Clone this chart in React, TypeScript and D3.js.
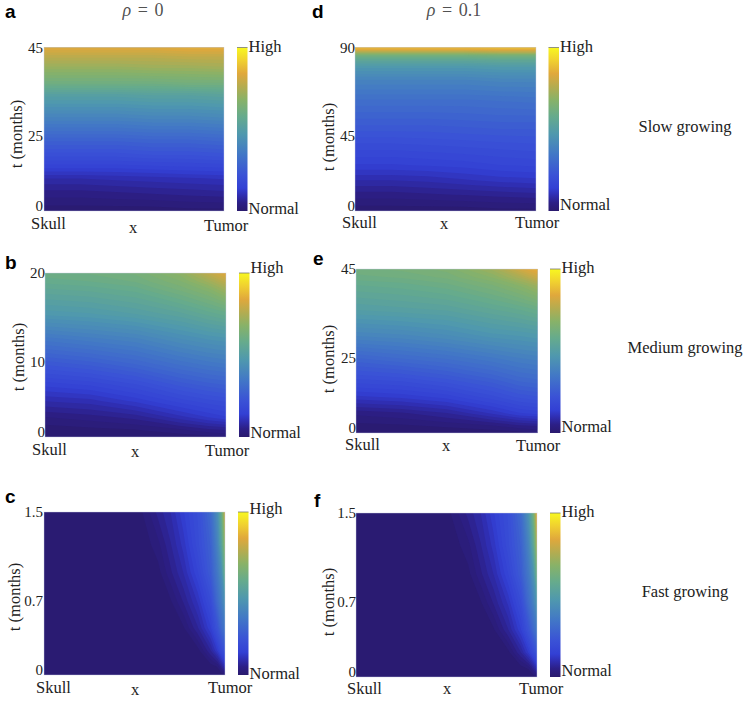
import React from "react";
import * as d3 from "d3";

// ---------- colour scale (position on colour bar -> colour) ----------
const colorPositions = [0, 0.05, 0.1, 0.14, 0.22, 0.35, 0.47, 0.58, 0.68, 0.76, 0.84, 0.92, 1];
const colorValues = ["#2a1a6e", "#2c1f86", "#2f2fb4", "#3340d4", "#3a52d6", "#4278c6", "#4f98ae", "#66ab8c", "#88b268", "#b4ac50", "#e0a83c", "#f0d030", "#f8f820"];

// ---------- sampled fields: xSamples = skull(0)..tumor(1), tSamples = top(1)..bottom(0) ----------
const aX = [0, 0.2, 0.4, 0.6, 0.8, 1];
const aT = [1, 0.94, 0.88, 0.78, 0.71, 0.57, 0.43, 0.35, 0.27, 0.2, 0.12, 0];
const aValues = [
  [0.84, 0.84, 0.84, 0.84, 0.85, 0.85],
  [0.77, 0.77, 0.77, 0.77, 0.78, 0.78],
  [0.71, 0.71, 0.71, 0.72, 0.72, 0.73],
  [0.61, 0.61, 0.61, 0.61, 0.62, 0.62],
  [0.51, 0.51, 0.51, 0.52, 0.52, 0.53],
  [0.39, 0.39, 0.39, 0.4, 0.4, 0.41],
  [0.27, 0.27, 0.27, 0.28, 0.28, 0.29],
  [0.21, 0.21, 0.21, 0.22, 0.22, 0.23],
  [0.15, 0.15, 0.15, 0.155, 0.16, 0.165],
  [0.09, 0.09, 0.095, 0.1, 0.105, 0.11],
  [0.05, 0.05, 0.055, 0.06, 0.065, 0.07],
  [0.005, 0.005, 0.005, 0.005, 0.01, 0.01],
];

const bX = [0, 0.25, 0.5, 0.75, 0.9, 1];
const bT = [1, 0.95, 0.9, 0.75, 0.6, 0.45, 0.32, 0.22, 0.12, 0.04, 0];
const bValues = [
  [0.6, 0.61, 0.63, 0.69, 0.78, 0.84],
  [0.58, 0.59, 0.61, 0.66, 0.72, 0.78],
  [0.55, 0.56, 0.58, 0.63, 0.67, 0.72],
  [0.47, 0.48, 0.5, 0.53, 0.56, 0.58],
  [0.35, 0.37, 0.39, 0.43, 0.45, 0.46],
  [0.24, 0.26, 0.29, 0.33, 0.35, 0.36],
  [0.15, 0.165, 0.195, 0.24, 0.26, 0.27],
  [0.09, 0.1, 0.13, 0.17, 0.19, 0.2],
  [0.035, 0.045, 0.06, 0.1, 0.125, 0.14],
  [0.005, 0.01, 0.015, 0.03, 0.045, 0.05],
  [0, 0, 0, 0.005, 0.01, 0.02],
];

const cX = [0, 0.5, 0.55, 0.63, 0.7, 0.77, 0.85, 0.92, 0.96, 0.98, 1];
const cT = [1, 0.8, 0.63, 0.45, 0.29, 0.15, 0.05, 0];
const cValues = [
  [0, 0.005, 0.02, 0.06, 0.09, 0.14, 0.2, 0.3, 0.44, 0.58, 0.8],
  [0, 0, 0.005, 0.03, 0.07, 0.115, 0.19, 0.27, 0.4, 0.52, 0.7],
  [0, 0, 0, 0.01, 0.05, 0.09, 0.16, 0.25, 0.36, 0.43, 0.6],
  [0, 0, 0, 0.005, 0.015, 0.055, 0.11, 0.19, 0.31, 0.37, 0.45],
  [0, 0, 0, 0, 0.005, 0.015, 0.07, 0.14, 0.23, 0.3, 0.35],
  [0, 0, 0, 0, 0, 0.002, 0.01, 0.07, 0.13, 0.18, 0.22],
  [0, 0, 0, 0, 0, 0, 0.002, 0.005, 0.02, 0.06, 0.1],
  [0, 0, 0, 0, 0, 0, 0, 0, 0.002, 0.005, 0.02],
];

const dX = [0, 0.2, 0.4, 0.6, 0.8, 1];
const dT = [1, 0.988, 0.97, 0.95, 0.92, 0.88, 0.8, 0.68, 0.525, 0.4, 0.28, 0.19, 0.1, 0];
const dValues = [
  [0.88, 0.88, 0.88, 0.88, 0.89, 0.89],
  [0.84, 0.84, 0.84, 0.84, 0.85, 0.85],
  [0.74, 0.74, 0.74, 0.74, 0.75, 0.75],
  [0.62, 0.62, 0.62, 0.62, 0.63, 0.63],
  [0.54, 0.54, 0.54, 0.54, 0.55, 0.55],
  [0.47, 0.47, 0.47, 0.47, 0.48, 0.48],
  [0.39, 0.39, 0.39, 0.39, 0.4, 0.4],
  [0.32, 0.32, 0.32, 0.32, 0.325, 0.33],
  [0.25, 0.25, 0.25, 0.255, 0.26, 0.26],
  [0.19, 0.19, 0.195, 0.2, 0.205, 0.21],
  [0.14, 0.14, 0.145, 0.15, 0.16, 0.165],
  [0.09, 0.09, 0.095, 0.105, 0.115, 0.12],
  [0.045, 0.045, 0.05, 0.055, 0.06, 0.065],
  [0.005, 0.005, 0.005, 0.005, 0.01, 0.01],
];

const eX = [0, 0.25, 0.5, 0.75, 0.9, 1];
const eT = [1, 0.95, 0.9, 0.75, 0.6, 0.45, 0.32, 0.22, 0.12, 0.04, 0];
const eValues = [
  [0.62, 0.63, 0.65, 0.72, 0.81, 0.86],
  [0.6, 0.61, 0.63, 0.68, 0.74, 0.8],
  [0.57, 0.58, 0.6, 0.64, 0.68, 0.72],
  [0.5, 0.51, 0.52, 0.55, 0.57, 0.59],
  [0.4, 0.41, 0.43, 0.46, 0.47, 0.48],
  [0.28, 0.3, 0.32, 0.35, 0.37, 0.38],
  [0.19, 0.2, 0.225, 0.26, 0.29, 0.3],
  [0.12, 0.13, 0.15, 0.19, 0.22, 0.23],
  [0.04, 0.05, 0.07, 0.11, 0.14, 0.15],
  [0.01, 0.012, 0.02, 0.03, 0.045, 0.05],
  [0, 0, 0, 0.005, 0.01, 0.02],
];

const fX = [0, 0.48, 0.53, 0.62, 0.69, 0.76, 0.84, 0.91, 0.955, 0.98, 1];
const fT = [1, 0.8, 0.63, 0.45, 0.29, 0.15, 0.05, 0];
const fValues = [
  [0, 0.005, 0.02, 0.06, 0.09, 0.14, 0.2, 0.3, 0.46, 0.62, 0.85],
  [0, 0, 0.005, 0.03, 0.07, 0.115, 0.19, 0.27, 0.4, 0.54, 0.74],
  [0, 0, 0, 0.012, 0.05, 0.09, 0.16, 0.25, 0.36, 0.45, 0.62],
  [0, 0, 0, 0.005, 0.015, 0.055, 0.11, 0.19, 0.31, 0.38, 0.47],
  [0, 0, 0, 0, 0.005, 0.015, 0.07, 0.14, 0.23, 0.3, 0.36],
  [0, 0, 0, 0, 0, 0.002, 0.01, 0.07, 0.13, 0.18, 0.23],
  [0, 0, 0, 0, 0, 0, 0.002, 0.005, 0.02, 0.06, 0.1],
  [0, 0, 0, 0, 0, 0, 0, 0, 0.002, 0.005, 0.02],
];

// ---------- labels ----------
const aTicks = ["45", "25", "0"];
const bTicks = ["20", "10", "0"];
const cTicks = ["1.5", "0.7", "0"];
const dTicks = ["90", "45", "0"];
const eTicks = ["45", "25", "0"];
const fTicks = ["1.5", "0.7", "0"];
const tickFractions = [1, 0.457, 0.03];
const rowLabels = ["Slow growing", "Medium growing", "Fast growing"];

// ---------- layout ----------
const panels = [
  { id: "a", xs: aX, ts: aT, vals: aValues, ticks: aTicks, box: [44, 224, 47.5, 211], cb: 237, letter: [5, 18], high: 51.5, normal: 214, skull: [31, 229], xl: [133, 233], tumor: [204, 231], tt: [22, 134], tickX: 43 },
  { id: "b", xs: bX, ts: bT, vals: bValues, ticks: bTicks, box: [45, 226, 273, 437], cb: 239, letter: [5, 269], high: 273, normal: 438, skull: [32, 455], xl: [135, 457], tumor: [205, 456], tt: [24, 357], tickX: 45 },
  { id: "c", xs: cX, ts: cT, vals: cValues, ticks: cTicks, box: [44, 225, 512, 675], cb: 238, letter: [5, 503], high: 514, normal: 679, skull: [36, 693], xl: [135, 695], tumor: [208, 693], tt: [20, 597], tickX: 43 },
  { id: "d", xs: dX, ts: dT, vals: dValues, ticks: dTicks, box: [355, 536, 47.5, 211], cb: 548.5, letter: [312, 18], high: 51.5, normal: 210, skull: [342, 228], xl: [444, 229], tumor: [515, 228], tt: [334, 137], tickX: 355 },
  { id: "e", xs: eX, ts: eT, vals: eValues, ticks: eTicks, box: [356, 537.5, 269, 433], cb: 550, letter: [313, 265], high: 273, normal: 432, skull: [345, 450], xl: [446, 451], tumor: [516, 451], tt: [334, 359], tickX: 356 },
  { id: "f", xs: fX, ts: fT, vals: fValues, ticks: fTicks, box: [356, 537, 513, 677], cb: 550, letter: [314, 507], high: 516.5, normal: 676, skull: [347, 694], xl: [447, 694], tumor: [519, 694], tt: [334, 602], tickX: 356 },
];

const SERIF = "'Liberation Serif', 'Times New Roman', serif";
const SANS = "'Liberation Sans', Arial, sans-serif";
const TEXT = "#222";
const BAND_COUNT = 56;

const colorScale = d3.scaleLinear<string>().domain(colorPositions).range(colorValues).interpolate(d3.interpolateRgb);

function bandPaths(p: (typeof panels)[number]) {
  const nx = p.xs.length;
  const ny = p.ts.length;
  const [x0, x1, y0, y1] = p.box;
  const xPx = d3.scaleLinear().domain([0, 1]).range([x0, x1]);
  const yPx = d3.scaleLinear().domain([0, 1]).range([y1, y0]);
  // grid index -> sampled position: d3.contours puts samples at index+0.5 and edges at 0 and n
  const gridDomain = (n: number) => [0, ...d3.range(n).map((i) => i + 0.5), n];
  const xIndex = d3.scaleLinear().domain(gridDomain(nx)).range([p.xs[0], ...p.xs, p.xs[nx - 1]]);
  const yIndex = d3.scaleLinear().domain(gridDomain(ny)).range([p.ts[0], ...p.ts, p.ts[ny - 1]]);
  const flat = p.vals.flat();
  const thresholds = d3.range(BAND_COUNT).map((i) => i / BAND_COUNT);
  const contours = d3.contours().size([nx, ny]).smooth(true).thresholds(thresholds)(flat);
  const path = d3.geoPath(
    d3.geoTransform({
      point(x: number, y: number) {
        (this as any).stream.point(xPx(xIndex(x)), yPx(yIndex(y)));
      },
    })
  );
  return contours
    .filter((c) => c.coordinates.length > 0)
    .map((c) => ({ d: path(c as any) || "", fill: colorScale(c.value + 0.5 / BAND_COUNT) }));
}

function Panel({ p }: { p: (typeof panels)[number] }) {
  const [x0, x1, y0, y1] = p.box;
  const y = d3.scaleLinear().domain([0, 1]).range([y1, y0]);
  const bands = bandPaths(p);
  return (
    <g>
      <text x={p.letter[0]} y={p.letter[1]} fontFamily={SANS} fontWeight="bold" fontSize={19} fill="#000">{p.id}</text>
      <rect x={x0} y={y0} width={x1 - x0} height={y1 - y0} fill={colorValues[0]} />
      {bands.map((b, i) => (
        <path key={i} d={b.d} fill={b.fill} />
      ))}
      <rect x={x0} y={y0} width={x1 - x0} height={y1 - y0} fill="none" stroke="#ccd0e4" strokeOpacity={0.6} strokeWidth={0.7} />
      {p.ticks.map((t, i) => (
        <text key={t + i} x={p.tickX} y={y(tickFractions[i]) + 5} textAnchor="end" fontFamily={SERIF} fontSize={15} fill={TEXT}>{t}</text>
      ))}
      <text transform={`translate(${p.tt[0]},${p.tt[1]}) rotate(-90)`} textAnchor="middle" fontFamily={SERIF} fontSize={16.5} fill={TEXT}>t (months)</text>
      <text x={p.skull[0]} y={p.skull[1]} fontFamily={SERIF} fontSize={16.5} fill={TEXT}>Skull</text>
      <text x={p.xl[0]} y={p.xl[1]} textAnchor="middle" fontFamily={SERIF} fontSize={16.5} fill={TEXT}>x</text>
      <text x={p.tumor[0]} y={p.tumor[1]} fontFamily={SERIF} fontSize={16.5} fill={TEXT}>Tumor</text>
      <rect x={p.cb} y={y0} width={10.5} height={y1 - y0} fill="url(#colorbar)" />
      <line x1={p.cb} x2={p.cb + 10.5} y1={y0} y2={y0} stroke="#777" strokeWidth={0.8} />
      <text x={p.cb + 11.5} y={p.high} fontFamily={SERIF} fontSize={16.5} fill={TEXT}>High</text>
      <text x={p.cb + 11.5} y={p.normal} fontFamily={SERIF} fontSize={16.5} fill={TEXT}>Normal</text>
    </g>
  );
}

function Rho({ cx, value }: { cx: number; value: string }) {
  return (
    <text x={cx} y={16} textAnchor="middle" fontFamily={SERIF} fontSize={18} wordSpacing={2} fill={TEXT} fillOpacity={0.8}>
      <tspan fontStyle="italic">ρ</tspan>
      <tspan> = {value}</tspan>
    </text>
  );
}

export default function App() {
  return (
    <svg width={747} height={701} viewBox="0 0 747 701" style={{ position: "absolute", left: 0, top: 0, background: "#fff" }}>
      <defs>
        <linearGradient id="colorbar" x1="0" y1="1" x2="0" y2="0">
          {colorPositions.map((pos, i) => (
            <stop key={pos} offset={pos} stopColor={colorValues[i]} />
          ))}
        </linearGradient>
      </defs>
      <Rho cx={143} value="0" />
      <Rho cx={454} value="0.1" />
      {panels.map((p) => (
        <Panel key={p.id} p={p} />
      ))}
      {rowLabels.map((label, i) => (
        <text key={label} x={685} y={[132, 353, 597][i]} textAnchor="middle" fontFamily={SERIF} fontSize={16.5} fill={TEXT}>{label}</text>
      ))}
    </svg>
  );
}
